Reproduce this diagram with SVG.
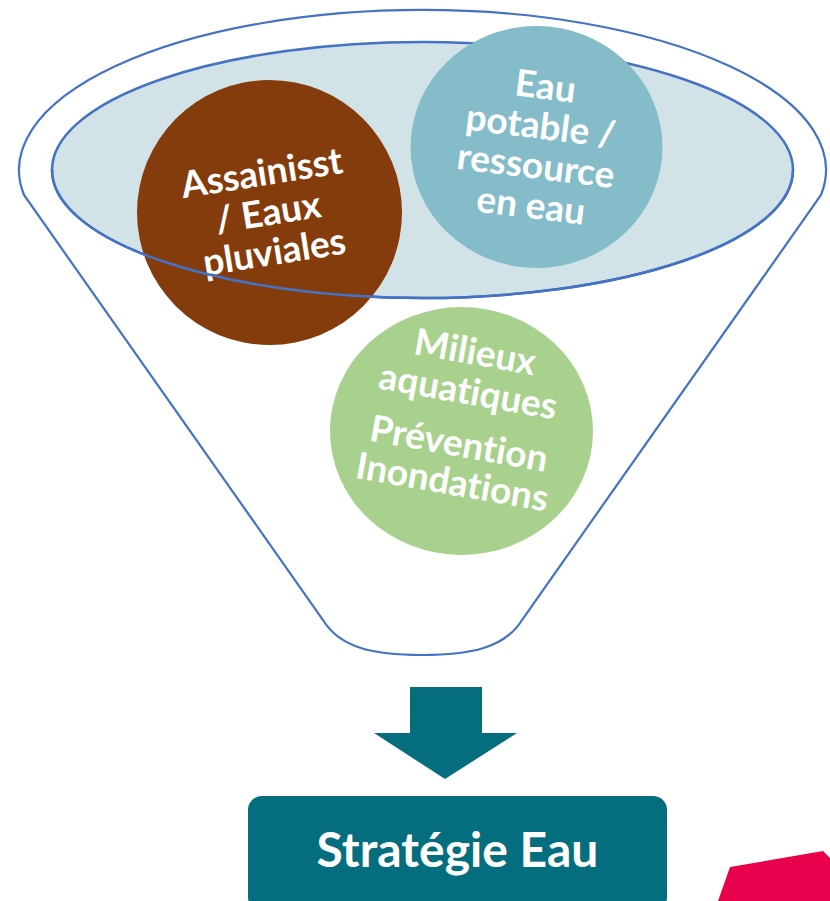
<svg xmlns="http://www.w3.org/2000/svg" width="830" height="901" viewBox="0 0 830 901">
  <style>
    .rim { fill: none; stroke: #4472C4; stroke-width: 2.2; }
    .lbl { font-family: Lato, "Open Sans", "Liberation Sans", sans-serif; font-weight: 700; fill: #FFFFFF; text-anchor: middle; font-variant-ligatures: none; font-feature-settings: "liga" 0, "dlig" 0; }
    .circ { font-size: 37px; }
    .dark { fill: #046E7E; }
  </style>
  <rect width="830" height="901" fill="#FFFFFF"/>
  <g id="funnel">
    <path d="M 24,195 A 403.5 160 0 1 1 821,195 L 522,620 C 505,648 470,655 422,655 C 374,655 340,648 323,620 Z" fill="#FFFFFF" class="rim"/>
    <ellipse cx="422.5" cy="170" rx="370.5" ry="128" fill="#D2E3E8" stroke="#4472C4" stroke-width="2.5"/>
  </g>
  <g id="node-assainissement">
    <circle cx="269.5" cy="212.5" r="132.5" fill="#843C0C"/>
    <g transform="translate(270,225) rotate(-9)">
      <text class="lbl circ" x="0" y="-40">Assainisst</text>
      <text class="lbl circ" x="0" y="0">/ Eaux</text>
      <text class="lbl circ" x="0" y="40">pluviales</text>
    </g>
  </g>
  <path id="funnel-rim-front" d="M 52,170 A 370.5 128 0 0 0 793,170" fill="none" stroke="#4472C4" stroke-width="2.5"/>
  <g id="node-eau-potable">
    <ellipse cx="536.5" cy="147" rx="126" ry="121" fill="#84BCC9"/>
    <g transform="translate(536.7,158.6) rotate(7)">
      <text class="lbl circ" x="0" y="-60">Eau</text>
      <text class="lbl circ" x="0" y="-20">potable /</text>
      <text class="lbl circ" x="0" y="20">ressource</text>
      <text class="lbl circ" x="0" y="60">en eau</text>
    </g>
  </g>
  <g id="node-milieux">
    <ellipse cx="461.5" cy="431" rx="131.5" ry="124" fill="#A9D18E"/>
    <g transform="translate(466,404) rotate(10)">
      <text class="lbl circ" x="0" y="-40">Milieux</text>
      <text class="lbl circ" x="0" y="0">aquatiques</text>
      <text class="lbl circ" x="0" y="53">Prévention</text>
      <text class="lbl circ" x="0" y="92">Inondations</text>
    </g>
  </g>
  <g id="connectors">
    <polygon class="dark" points="410,687 482,687 482,733 517,733 445,779 374,733 410,733"/>
  </g>
  <g id="node-strategie">
    <rect class="dark" x="248" y="796" width="419" height="115" rx="14" ry="14"/>
    <text class="lbl" x="457.5" y="867" font-size="48">Stratégie Eau</text>
  </g>
  <polygon points="730,867 823,851 830,858 830,901 718,901" fill="#E8004C"/>
</svg>
